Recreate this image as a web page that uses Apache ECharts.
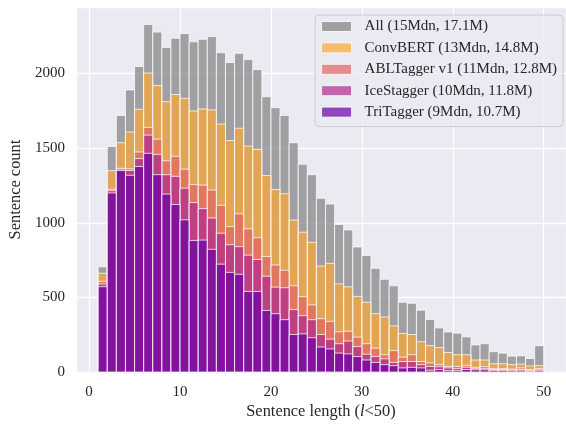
<!DOCTYPE html>
<html>
<head>
<meta charset="utf-8">
<script src="https://cdn.jsdelivr.net/npm/echarts@6/dist/echarts.min.js"></script>
<style>
html,body{margin:0;padding:0;background:#fff;}
#c{width:566px;height:425px;}
</style>
</head>
<body>
<div id="c"></div>
<script>
// Bin left edges (each bin is 1 wide)
const binStarts = [1,2,3,4,5,6,7,8,9,10,11,12,13,14,15,16,17,18,19,20,21,22,23,24,25,26,27,28,29,30,31,32,33,34,35,36,37,38,39,40,41,42,43,44,45,46,47,48,49];

const seriesNames = [
  'All (15Mdn, 17.1M)',
  'ConvBERT (13Mdn, 14.8M)',
  'ABLTagger v1 (11Mdn, 12.8M)',
  'IceStagger (10Mdn, 11.8M)',
  'TriTagger (9Mdn, 10.7M)'
];

const allCounts = [705,1511,1719,1890,2046,2328,2277,2174,2236,2267,
  2212,2229,2247,2139,2073,2135,2093,2026,1844,1771,
  1719,1536,1392,1322,1164,1126,989,952,838,781,
  695,622,578,468,461,415,353,296,269,261,
  236,182,190,137,127,107,109,91,177];

const convbertCounts = [662,1349,1536,1608,1760,2003,1919,1811,1859,1833,
  1749,1762,1756,1661,1551,1633,1514,1491,1316,1223,
  1194,1018,937,869,710,728,591,571,507,468,
  391,369,309,259,252,203,177,164,131,116,
  116,81,81,56,56,50,54,41,43];

const abltaggerCounts = [608,1225,1365,1362,1474,1639,1560,1415,1445,1359,
  1256,1252,1219,1117,974,1060,959,900,774,717,
  682,578,505,450,358,340,270,274,234,190,
  160,116,144,100,116,71,61,50,38,38,
  45,32,36,23,23,20,28,17,23];

const icestaggerCounts = [590,1215,1360,1350,1430,1587,1458,1322,1311,1232,
  1135,1095,1032,930,853,840,783,754,642,569,
  565,419,378,351,252,221,190,208,171,120,
  104,89,65,71,71,50,38,36,28,23,
  32,23,23,17,17,14,17,12,15];

const tritaggerCounts = [572,1200,1350,1318,1377,1465,1322,1192,1122,1020,
  882,884,822,723,668,655,540,540,413,391,
  351,252,256,230,168,155,127,122,104,81,
  65,50,43,28,32,28,12,17,10,10,
  17,15,15,10,10,8,8,6,8];

const yTicks = [0,500,1000,1500,2000];
const xTicks = [0,10,20,30,40,50];

const colors = [
  'rgba(128,128,128,0.7)',
  'rgba(252,166,54,0.7)',
  'rgba(225,100,98,0.7)',
  'rgba(177,42,144,0.7)',
  'rgba(106,0,168,0.7)'
];

const allSeriesData = [allCounts, convbertCounts, abltaggerCounts, icestaggerCounts, tritaggerCounts];
const FONT = '"Liberation Serif","DejaVu Serif",serif';
const TXT = '#262626';

function renderBar(params, api) {
  const x0 = api.value(0);
  const v = api.value(1);
  const p1 = api.coord([x0, v]);
  const p2 = api.coord([x0 + 1, 0]);
  return {
    type: 'rect',
    shape: { x: p1[0], y: p1[1], width: p2[0] - p1[0], height: p2[1] - p1[1] },
    style: { fill: api.visual('color'), stroke: 'rgba(255,255,255,0.75)', lineWidth: 1 }
  };
}

const series = allSeriesData.map((arr, i) => ({
  name: seriesNames[i],
  type: 'custom',
  renderItem: renderBar,
  itemStyle: { color: colors[i], borderColor: 'rgba(255,255,255,0.8)', borderWidth: 1 },
  encode: { x: 0, y: 1 },
  data: binStarts.map((b, j) => [b, arr[j]]),
  z: 2 + i,
  animation: false
}));

const chart = echarts.init(document.getElementById('c'), null, { renderer: 'canvas' });
chart.setOption({
  animation: false,
  backgroundColor: '#ffffff',
  textStyle: { fontFamily: FONT },
  grid: {
    left: 74, top: 7, width: 497, height: 370.5,
    show: true, backgroundColor: '#EAEAF2', borderWidth: 0
  },
  xAxis: {
    type: 'value',
    min: -1.45, max: 52.45,
    splitNumber: 5,
    axisLine: { show: false },
    axisTick: { show: false },
    axisLabel: {
      fontFamily: FONT, fontSize: 15, color: TXT, margin: 12,
      showMinLabel: false, showMaxLabel: false,
      formatter: v => (xTicks.indexOf(v) >= 0 ? String(v) : '')
    },
    splitLine: { show: true, lineStyle: { color: '#ffffff', width: 1.3 } },
    name: '{a|Sentence length (}{i|l}{a|<50)}',
    nameLocation: 'middle',
    nameGap: 30,
    nameTextStyle: {
      rich: {
        a: { fontFamily: FONT, fontSize: 16.4, color: TXT },
        i: { fontFamily: FONT, fontSize: 16.4, color: TXT, fontStyle: 'italic' }
      }
    }
  },
  yAxis: {
    type: 'value',
    min: 0, max: 2445, interval: 500,
    axisLine: { show: false },
    axisTick: { show: false },
    axisLabel: {
      fontFamily: FONT, fontSize: 15, color: TXT, margin: 11,
      showMaxLabel: false,
      formatter: v => (yTicks.indexOf(v) >= 0 ? String(v) : '')
    },
    splitLine: { show: true, lineStyle: { color: '#ffffff', width: 1.3 } },
    name: 'Sentence count',
    nameLocation: 'middle',
    nameGap: 49,
    nameTextStyle: { fontFamily: FONT, fontSize: 16.4, color: TXT }
  },
  legend: {
    orient: 'vertical',
    right: 3,
    top: 15,
    itemWidth: 30,
    itemHeight: 10,
    itemGap: 6.4,
    padding: [4, 6, 7, 6],
    backgroundColor: 'rgba(234,234,242,0.8)',
    borderColor: '#cccccc',
    borderWidth: 1,
    borderRadius: 4,
    textStyle: { fontFamily: FONT, fontSize: 15, color: TXT, padding: [0, 0, 0, 8] },
    data: seriesNames.map((n, i) => ({ name: n, icon: 'rect', itemStyle: { color: colors[i], borderColor: 'rgba(255,255,255,0.8)', borderWidth: 1 } }))
  },
  series: series
});
</script>
</body>
</html>
